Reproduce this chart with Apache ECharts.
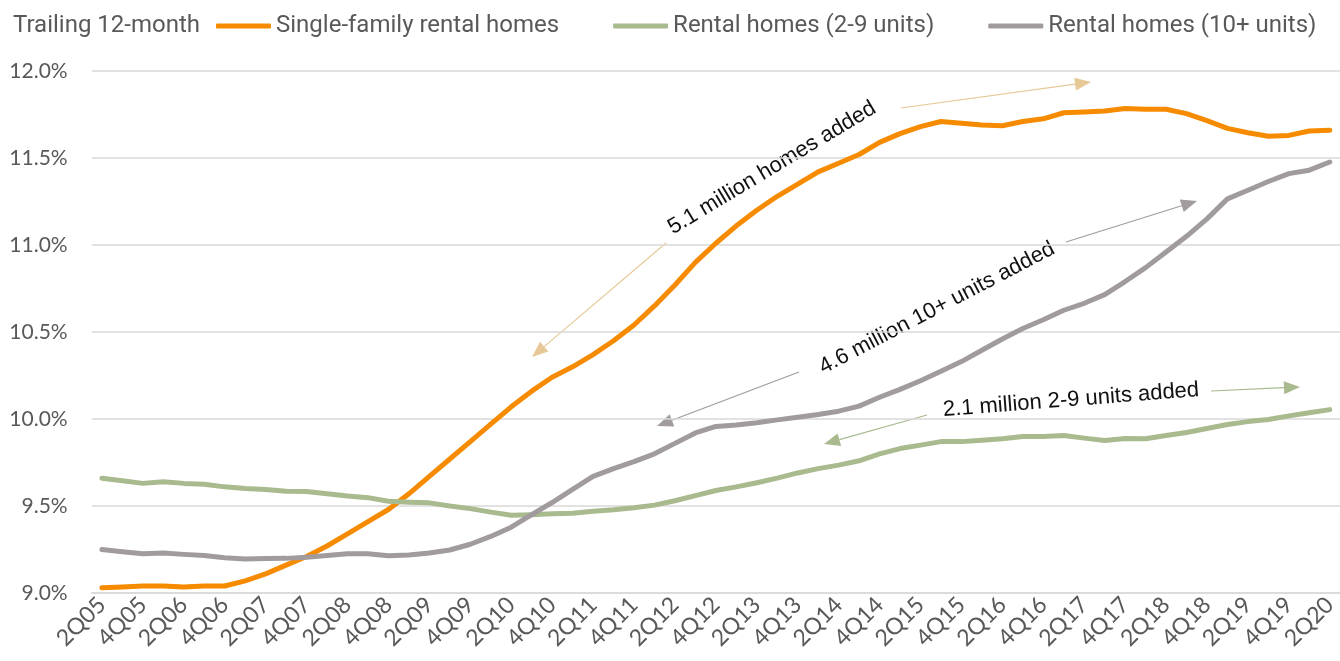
<!DOCTYPE html>
<html>
<head>
<meta charset="utf-8">
<script src="https://cdn.jsdelivr.net/npm/echarts@6/dist/echarts.min.js"></script>
<style>
  html, body { margin: 0; padding: 0; background: #fff; }
  #chart { width: 1340px; height: 661px; }
</style>
</head>
<body>
<div id="chart"></div>
<script>
const quarters = [
  '2Q05', '3Q05', '4Q05',
  '1Q06', '2Q06', '3Q06', '4Q06',
  '1Q07', '2Q07', '3Q07', '4Q07',
  '1Q08', '2Q08', '3Q08', '4Q08',
  '1Q09', '2Q09', '3Q09', '4Q09',
  '1Q10', '2Q10', '3Q10', '4Q10',
  '1Q11', '2Q11', '3Q11', '4Q11',
  '1Q12', '2Q12', '3Q12', '4Q12',
  '1Q13', '2Q13', '3Q13', '4Q13',
  '1Q14', '2Q14', '3Q14', '4Q14',
  '1Q15', '2Q15', '3Q15', '4Q15',
  '1Q16', '2Q16', '3Q16', '4Q16',
  '1Q17', '2Q17', '3Q17', '4Q17',
  '1Q18', '2Q18', '3Q18', '4Q18',
  '1Q19', '2Q19', '3Q19', '4Q19',
  '1Q20', '2Q20'
]

// share of housing stock, trailing 12-month, percent
const singleFamily = [
  9.03, 9.035, 9.04, 9.04, 9.035, 9.04, 9.04, 9.07, 9.11, 9.16,
  9.21, 9.27, 9.34, 9.41, 9.48, 9.57, 9.67, 9.77, 9.87, 9.97,
  10.07, 10.16, 10.24, 10.30, 10.37, 10.45, 10.54, 10.65, 10.77, 10.90,
  11.01, 11.11, 11.20, 11.28, 11.35, 11.42, 11.47, 11.52, 11.59, 11.64,
  11.68, 11.71, 11.70, 11.69, 11.685, 11.71, 11.725, 11.76, 11.765, 11.77,
  11.785, 11.78, 11.78, 11.755, 11.715, 11.67, 11.645, 11.625, 11.63, 11.655,
  11.66
]
const units2to9 = [
  9.66, 9.645, 9.63, 9.64, 9.63, 9.625, 9.61, 9.60, 9.595, 9.585,
  9.583, 9.57, 9.557, 9.548, 9.527, 9.522, 9.518, 9.50, 9.485, 9.465,
  9.447, 9.45, 9.455, 9.458, 9.47, 9.478, 9.49, 9.505, 9.53, 9.56,
  9.589, 9.61, 9.634, 9.66, 9.69, 9.715, 9.735, 9.76, 9.80, 9.83,
  9.85, 9.87, 9.87, 9.878, 9.886, 9.90, 9.90, 9.905, 9.89, 9.876,
  9.888, 9.886, 9.905, 9.922, 9.945, 9.968, 9.985, 9.997, 10.018, 10.036,
  10.054
]
const units10plus = [
  9.25, 9.237, 9.225, 9.23, 9.222, 9.215, 9.203, 9.196, 9.198, 9.199,
  9.205, 9.215, 9.225, 9.226, 9.214, 9.218, 9.23, 9.247, 9.28, 9.325,
  9.378, 9.45, 9.52, 9.595, 9.67, 9.715, 9.755, 9.80, 9.86, 9.92,
  9.957, 9.965, 9.978, 9.995, 10.01, 10.026, 10.045, 10.074, 10.125, 10.17,
  10.22, 10.275, 10.33, 10.395, 10.46, 10.52, 10.57, 10.625, 10.665, 10.715,
  10.79, 10.87, 10.96, 11.05, 11.15, 11.265, 11.315, 11.365, 11.41, 11.43,
  11.477
]

const seriesNames = ['Single-family rental homes', 'Rental homes (2-9 units)', 'Rental homes (10+ units)']
const colors = ['#F68B00', '#A9BA8E', '#A19B9D']

const axisFont = 'Lato, "Open Sans", sans-serif'
const legendFont = 'Roboto, "Liberation Sans", sans-serif'
const noteFont = '22px "Liberation Sans", Arial, sans-serif'

function arrow(x1, y1, x2, y2, color) {
  const ang = Math.atan2(y2 - y1, x2 - x1)
  const len = 16
  const half = 6.5
  const bx = x2 - len * Math.cos(ang)
  const by = y2 - len * Math.sin(ang)
  const px = -Math.sin(ang) * half
  const py = Math.cos(ang) * half
  return [
    { type: 'line', silent: true, shape: { x1: x1, y1: y1, x2: bx, y2: by }, style: { stroke: color, lineWidth: 1.2 } },
    { type: 'polygon', silent: true, shape: { points: [[x2, y2], [bx + px, by + py], [bx - px, by - py]] }, style: { fill: color } }
  ]
}

function note(text, x, y, deg) {
  return {
    type: 'text', silent: true, x: x, y: y, rotation: deg * Math.PI / 180,
    style: { text: text, font: noteFont, fill: '#111', align: 'center', verticalAlign: 'middle' }
  }
}

const chart = echarts.init(document.getElementById('chart'))

chart.setOption({
  animation: false,
  title: {
    text: 'Trailing 12-month',
    left: 8, top: 9,
    textStyle: { fontFamily: legendFont, fontSize: 24, fontWeight: 'normal', color: '#595959' }
  },
  legend: {
    left: 211, top: 9, width: 1125,
    icon: 'roundRect',
    itemWidth: 55, itemHeight: 5, itemGap: 54,
    textStyle: { fontFamily: legendFont, fontSize: 24, color: '#595959' },
    data: seriesNames
  },
  grid: { left: 91.7, right: -8.3, top: 71, bottom: 68, containLabel: false },
  xAxis: {
    type: 'category',
    data: quarters,
    boundaryGap: true,
    axisLine: { lineStyle: { color: '#D9D9D9', width: 1.5 } },
    axisTick: { show: false },
    axisLabel: { interval: 1, rotate: 45, margin: 8, fontFamily: axisFont, fontSize: 23, color: '#595959' }
  },
  yAxis: {
    type: 'value',
    min: 9, max: 12, interval: 0.5,
    axisLine: { show: false },
    axisTick: { show: false },
    splitLine: { lineStyle: { color: '#D9D9D9', width: 1.5 } },
    axisLabel: {
      margin: 24, fontFamily: axisFont, fontSize: 21, color: '#595959',
      formatter: (v) => v.toFixed(1) + '%'
    }
  },
  series: [singleFamily, units2to9, units10plus].map((vals, i) => ({
    name: seriesNames[i],
    type: 'line',
    data: vals,
    showSymbol: false,
    color: colors[i],
    lineStyle: { color: colors[i], width: 5, cap: 'round', join: 'round' }
  })),
  graphic: [
    note('5.1 million homes added', 772, 168, 31),
    note('4.6 million 10+ units added', 937, 308, 27.5),
    note('2.1 million 2-9 units added', 1071, 400, 4.5),
    ...arrow(666, 243, 532, 357, '#E6C996'),
    ...arrow(901, 108, 1091, 82, '#E6C996'),
    ...arrow(799, 372, 657, 426, '#A19B9D'),
    ...arrow(1066, 242, 1197, 201, '#A19B9D'),
    ...arrow(927, 415, 824, 444, '#A9BA8E'),
    ...arrow(1211, 391, 1300, 387, '#A9BA8E')
  ]
})
</script>
</body>
</html>
